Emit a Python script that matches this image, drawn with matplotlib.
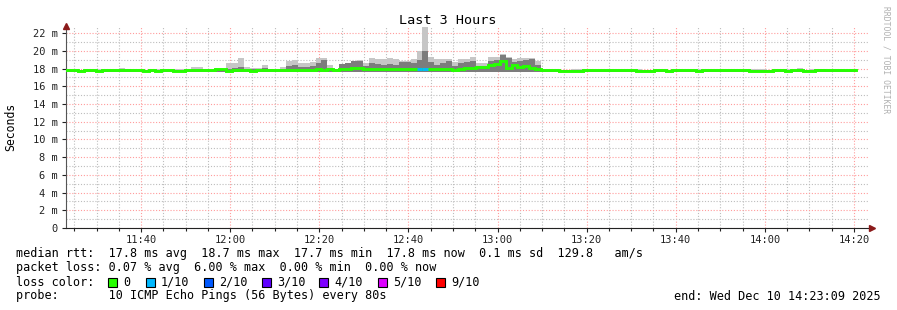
"""
SmokePing style latency chart (Last 3 Hours)
"""
import matplotlib
matplotlib.use("Agg")
import matplotlib.pyplot as plt
from matplotlib.patches import Rectangle
import numpy as np

# ==================== data ====================
START_MIN = 23 + 9 / 60      # 11:23:09, minutes after 11:00
STEP_MIN = 80 / 60           # one ping round every 80 s
SPAN_MIN = 180

# median rtt per round (ms)
MEDIAN = [
    17.8, 17.8, 17.7, 17.8, 17.8, 17.7, 17.8, 17.8, 17.8, 17.8,
    17.8, 17.8, 17.8, 17.7, 17.8, 17.7, 17.8, 17.8, 17.7, 17.7,
    17.8, 17.8, 17.8, 17.85, 17.8, 17.9, 17.9, 17.7, 17.8, 17.8,
    17.8, 17.75, 17.8, 17.8, 17.85, 17.8, 17.85, 17.8, 17.85, 17.8,
    17.85, 17.85, 17.9, 17.85, 17.9, 17.8, 17.95, 17.95, 18.1, 18.1,
    17.9, 17.95, 17.95, 17.9, 17.95, 17.9, 17.95, 17.9, 17.95, 18.0,
    18.0, 17.95, 17.9, 18.0, 18.0, 17.85, 18.0, 18.05, 18.05, 18.2,
    18.2, 18.4, 18.55, 18.8, 18.05, 18.45, 18.2, 18.3, 18.05, 17.95,
    17.85, 17.8, 17.8, 17.7, 17.75, 17.7, 17.75, 17.8, 17.8, 17.8,
    17.8, 17.8, 17.8, 17.8, 17.8, 17.8, 17.7, 17.7, 17.75, 17.8,
    17.8, 17.7, 17.8, 17.8, 17.8, 17.8, 17.75, 17.8, 17.8, 17.8,
    17.8, 17.8, 17.8, 17.8, 17.8, 17.7, 17.7, 17.7, 17.75, 17.8,
    17.8, 17.7, 17.8, 17.8, 17.7, 17.75, 17.85, 17.85, 17.8, 17.8,
    17.8, 17.8, 17.8,
]

# highest ping per round (ms) - top of the light smoke
SMOKE_MAX = [
    17.9, 17.9, 17.85, 17.95, 17.95, 17.9, 17.9, 17.9, 17.9, 18.05,
    18.0, 17.9, 17.9, 17.85, 17.9, 17.9, 17.95, 17.9, 17.95, 17.9,
    17.95, 18.2, 18.15, 18.0, 17.9, 18.0, 18.0, 18.6, 18.6, 19.2,
    18.2, 18.1, 18.1, 18.4, 17.95, 17.95, 18.2, 18.8, 19.0, 18.6,
    18.6, 18.7, 19.2, 19.2, 18.4, 17.95, 18.45, 18.45, 18.75, 18.95,
    18.6, 19.2, 19.05, 19.05, 19.2, 19.05, 18.85, 18.85, 19.1, 20.0,
    22.7, 19.25, 19.05, 19.05, 19.1, 18.7, 19.05, 19.05, 19.3, 18.6,
    18.65, 19.25, 19.3, 19.6, 19.3, 19.05, 19.15, 19.2, 19.2, 18.85,
    17.9, 17.9, 17.9, 17.85, 17.85, 17.9, 17.9, 17.9, 17.9, 17.95,
    17.95, 17.95, 17.95, 17.9, 17.9, 17.9, 17.9, 17.85, 17.85, 17.9,
    17.9, 17.85, 17.9, 17.9, 17.9, 17.9, 17.9, 17.9, 17.9, 17.9,
    17.9, 17.95, 17.9, 17.9, 17.9, 17.95, 17.95, 17.9, 17.85, 17.9,
    17.9, 17.9, 17.95, 18.05, 17.85, 17.9, 17.9, 17.9, 17.9, 17.9,
    17.9, 17.85, 17.9,
]

# upper quantile per round (ms) - top of the darker smoke
SMOKE_MID = [
    17.85, 17.85, 17.8, 17.85, 17.85, 17.8, 17.85, 17.85, 17.85, 17.9,
    17.9, 17.85, 17.85, 17.8, 17.85, 17.8, 17.85, 17.85, 17.8, 17.8,
    17.85, 18.0, 18.0, 17.9, 17.85, 17.95, 17.95, 18.0, 18.1, 18.2,
    17.95, 17.9, 17.9, 18.1, 17.9, 17.85, 17.95, 18.3, 18.4, 18.2,
    18.2, 18.3, 18.6, 19.0, 18.1, 17.9, 18.5, 18.6, 18.8, 18.8,
    18.3, 18.6, 18.5, 18.4, 18.5, 18.4, 18.75, 18.75, 18.6, 19.0,
    20.0, 18.7, 18.4, 18.6, 18.8, 18.3, 18.6, 18.7, 18.8, 18.3,
    18.3, 18.9, 19.0, 19.5, 19.2, 18.7, 18.8, 19.0, 19.1, 18.4,
    17.85, 17.85, 17.85, 17.8, 17.8, 17.8, 17.8, 17.85, 17.85, 17.85,
    17.85, 17.85, 17.85, 17.85, 17.85, 17.85, 17.8, 17.8, 17.8, 17.85,
    17.85, 17.8, 17.85, 17.85, 17.85, 17.85, 17.8, 17.85, 17.85, 17.85,
    17.85, 17.85, 17.85, 17.85, 17.85, 17.8, 17.8, 17.8, 17.8, 17.85,
    17.85, 17.8, 17.85, 17.95, 17.8, 17.8, 17.9, 17.9, 17.85, 17.85,
    17.85, 17.8, 17.85,
]

SMOKE_MIN = 17.6                 # lowest ping seen (ms)
LOSS_ROUNDS = [59, 60]           # rounds with lost pings
LOSS_TENTHS = [1, 1]

Y_TICKS = [0, 2, 4, 6, 8, 10, 12, 14, 16, 18, 20, 22]
X_TICKS = [40, 60, 80, 100, 120, 140, 160, 180, 200]   # minutes after 11:00

LOSS_NAMES = ["0", "1/10", "2/10", "3/10", "4/10", "5/10", "9/10"]
LOSS_COLORS = ["#26ff00", "#00b8ff", "#0059ff", "#5e00ff", "#7e00ff", "#dd00ff", "#ff0000"]

LINE1 = "median rtt:  17.8 ms avg  18.7 ms max  17.7 ms min  17.8 ms now  0.1 ms sd  129.8   am/s"
LINE2 = "packet loss: 0.07 % avg  6.00 % max  0.00 % min  0.00 % now"
LINE3 = "loss color:"
LINE4 = "probe:       10 ICMP Echo Pings (56 Bytes) every 80s"
END_TEXT = "end: Wed Dec 10 14:23:09 2025"

MONO = "DejaVu Sans Mono"
W, H = 897, 310


def px(x, y):
    """pixel position -> figure fraction"""
    return x / W, 1 - y / H


def main():
    fig = plt.figure(figsize=(W / 100, H / 100), dpi=100)
    fig.patch.set_facecolor("white")
    ax = fig.add_axes([66 / W, 1 - 228 / H, (868 - 66) / W, (228 - 26) / H])

    n = len(MEDIAN)
    edges = START_MIN + np.arange(n + 1) * STEP_MIN
    med = np.array(MEDIAN)
    hi = np.array(SMOKE_MAX)
    mid = np.array(SMOKE_MID)

    # smoke
    ax.stairs(hi, edges, baseline=SMOKE_MIN, fill=True, color="#c6c6c6", lw=0, zorder=2)
    ax.stairs(mid, edges, baseline=SMOKE_MIN, fill=True, color="#7c7c7c", lw=0, zorder=3)

    # median line, coloured by loss
    med_ext = np.append(med, med[-1])
    ax.step(edges, med_ext, where="post", color=LOSS_COLORS[0], lw=2.1, zorder=5,
            solid_joinstyle="miter")
    for r, lv in zip(LOSS_ROUNDS, LOSS_TENTHS):
        ax.plot([edges[r], edges[r + 1]], [med[r], med[r]], color=LOSS_COLORS[lv],
                lw=2.1, zorder=6, solid_capstyle="butt")

    # axes
    ax.set_xlim(START_MIN, START_MIN + SPAN_MIN)
    ax.set_ylim(0, 22.8)
    ax.set_yticks(Y_TICKS)
    ax.set_yticklabels(["0" if v == 0 else f"{v} m" for v in Y_TICKS])
    ax.set_yticks(np.arange(1, 23, 2), minor=True)
    ax.set_xticks(X_TICKS)
    ax.set_xticklabels([f"{11 + m // 60}:{m % 60:02d}" for m in X_TICKS])
    ax.set_xticks(np.arange(25, 205, 5), minor=True)

    dots = (0, (1, 1.6))
    ax.grid(which="major", color="#ff9c9c", linestyle=dots, lw=0.8, zorder=1)
    ax.grid(which="minor", color="#bdbdbd", linestyle=dots, lw=0.8, zorder=1)
    ax.set_axisbelow(True)

    for s in ("top", "right"):
        ax.spines[s].set_visible(False)
    ax.spines["left"].set_color("#555555")
    ax.spines["bottom"].set_color("#222222")
    ax.tick_params(axis="both", which="both", labelsize=7.5, colors="#222222",
                   direction="out", width=0.8)
    ax.tick_params(axis="y", which="major", length=3, pad=3)
    ax.tick_params(axis="y", which="minor", length=0)
    ax.tick_params(axis="x", which="major", length=3, pad=2)
    ax.tick_params(axis="x", which="minor", length=2)
    for lab in ax.get_xticklabels() + ax.get_yticklabels():
        lab.set_family(MONO)

    # axis arrows
    ax.plot([0], [1.0], marker="^", ms=4.5, color="#8b1a1a", transform=ax.transAxes,
            clip_on=False, zorder=8)
    ax.plot([1.005], [0], marker=">", ms=4.5, color="#8b1a1a", transform=ax.transAxes,
            clip_on=False, zorder=8)

    # titles
    fig.text(*px(448, 20), "Last 3 Hours", family=MONO, fontsize=9.7,
             ha="center", va="center")
    fig.text(*px(11, 127), "Seconds", family=MONO, fontsize=8.3, rotation=90,
             ha="center", va="center")
    fig.text(*px(886, 60), "RRDTOOL / TOBI OETIKER", family=MONO, fontsize=5.8,
             rotation=270, ha="center", va="center", color="#b0b0b0")

    # legend area
    fig.text(*px(16, 254), LINE1, family=MONO, fontsize=8.5, va="center")
    fig.text(*px(16, 268), LINE2, family=MONO, fontsize=8.5, va="center")
    fig.text(*px(16, 282), LINE3, family=MONO, fontsize=8.5, va="center")
    fig.text(*px(16, 296), LINE4, family=MONO, fontsize=8.5, va="center")
    fig.text(*px(881, 296), END_TEXT, family=MONO, fontsize=8.5, va="center", ha="right")

    box_left = [108, 146, 204, 262, 319, 378, 436]
    for bx, name, col in zip(box_left, LOSS_NAMES, LOSS_COLORS):
        x0, y0 = px(bx, 287)
        fig.add_artist(Rectangle((x0, y0), 9 / W, 9 / H, transform=fig.transFigure,
                                 facecolor=col, edgecolor="black", lw=0.8))
        fig.text(*px(bx + 15, 282), name, family=MONO, fontsize=8.5, va="center")

    fig.savefig("out.png", dpi=100, facecolor="white")


if __name__ == "__main__":
    main()
